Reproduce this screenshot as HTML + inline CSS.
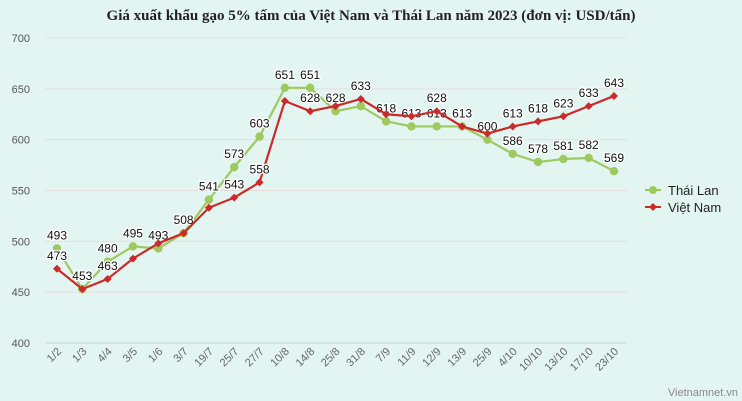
<!DOCTYPE html>
<html><head><meta charset="utf-8"><style>
body{margin:0;background:#e3f5f1;}
svg{display:block;font-family:"Liberation Sans",sans-serif;}
</style></head><body>
<svg id="c" width="742" height="401">
<rect width="742" height="401" fill="#e3f5f1"/>
<text x="371" y="20" text-anchor="middle" font-family="Liberation Serif,serif" font-weight="bold" font-size="15" fill="#222">Giá xuất khẩu gạo 5% tấm của Việt Nam và Thái Lan năm 2023 (đơn vị: USD/tấn)</text>
<g id="grid"></g><g id="xl"></g><g id="series"></g>
<g>
<g><line x1="645" y1="190" x2="661" y2="190" stroke="#9dc95e" stroke-width="2"/><circle cx="653" cy="190" r="4" fill="#9dc95e"/><text x="668" y="195" font-size="13" fill="#222">Thái Lan</text></g>
<g><line x1="645" y1="207" x2="661" y2="207" stroke="#cc2a2a" stroke-width="2"/><path d="M653 203L657 207L653 211L649 207Z" fill="#cc2a2a"/><text x="668" y="212" font-size="13" fill="#222">Việt Nam</text></g>
</g>
<text x="738" y="396" text-anchor="end" font-size="11" fill="#888">Vietnamnet.vn</text>
</svg>
<script>
const categories=["1/2","1/3","4/4","3/5","1/6","3/7","19/7","25/7","27/7","10/8","14/8","25/8","31/8","7/9","11/9","12/9","13/9","25/9","4/10","10/10","13/10","17/10","23/10"];
const thaiValues=[493,453,480,495,493,508,541,573,603,651,651,628,633,618,613,613,613,600,586,578,581,582,569];
const vietValues=[473,453,463,483,498,508,533,543,558,638,628,633,640,625,623,628,613,606,613,618,623,633,643];
const thaiShow=[1,0,1,1,1,1,1,1,1,1,1,1,0,1,1,1,0,1,1,1,1,1,1];
const vietShow=[1,1,1,0,0,0,0,1,1,0,1,0,1,0,0,1,1,0,1,1,1,1,1];
const vietLabels=[473,453,463,483,498,508,533,543,558,638,628,633,633,625,623,628,613,606,613,618,623,633,643];
const yTicks=[400,450,500,550,600,650,700];
const NS="http://www.w3.org/2000/svg";
const x=i=>57+i*(614-57)/(categories.length-1);
const y=v=>343-(v-400)*(305/300);
function mk(t,a,p){const e=document.createElementNS(NS,t);for(const k in a)e.setAttribute(k,a[k]);p.appendChild(e);return e;}
const grid=document.getElementById('grid'),xl=document.getElementById('xl'),ser=document.getElementById('series');
yTicks.forEach(t=>{
const l=mk('line',{x1:45,x2:627,y1:y(t),y2:y(t),stroke:t===400?'#c4d4dc':'#e6dede','stroke-width':1},grid);


const tx=mk('text',{x:30,y:y(t)+4,'text-anchor':'end','font-size':11,fill:'#555'},grid);tx.textContent=t;


});
categories.forEach((c,i)=>{
const tx=mk('text',{x:x(i)+5,y:352,'text-anchor':'end','font-size':11,fill:'#666',transform:`rotate(-45 ${x(i)+5} 352)`},xl);tx.textContent=c;


});
function draw(vals,show,labels,color,name,marker){
const g=mk('g',{},ser);


const pl=mk('polyline',{points:vals.map((v,i)=>x(i)+','+y(v)).join(' '),fill:'none',stroke:color,'stroke-width':2.2},g);


vals.forEach((v,i)=>{
const cx=x(i),cy=y(v);
const m=marker==='c'?mk('circle',{cx,cy,r:4.2,fill:color},g):mk('path',{d:`M${cx} ${cy-4}L${cx+4} ${cy}L${cx} ${cy+4}L${cx-4} ${cy}Z`,fill:color},g);


if(show[i]){const t=mk('text',{x:cx,y:cy-9,'text-anchor':'middle','font-size':12,fill:'#111',stroke:'#fff','stroke-width':2.5,'paint-order':'stroke'},g);t.textContent=labels[i];

}
});
}
draw(thaiValues,thaiShow,thaiValues,'#9dc95e','thai-lan','c');
draw(vietValues,vietShow,vietLabels,'#cc2a2a','viet-nam','d');
</script>
</body></html>
